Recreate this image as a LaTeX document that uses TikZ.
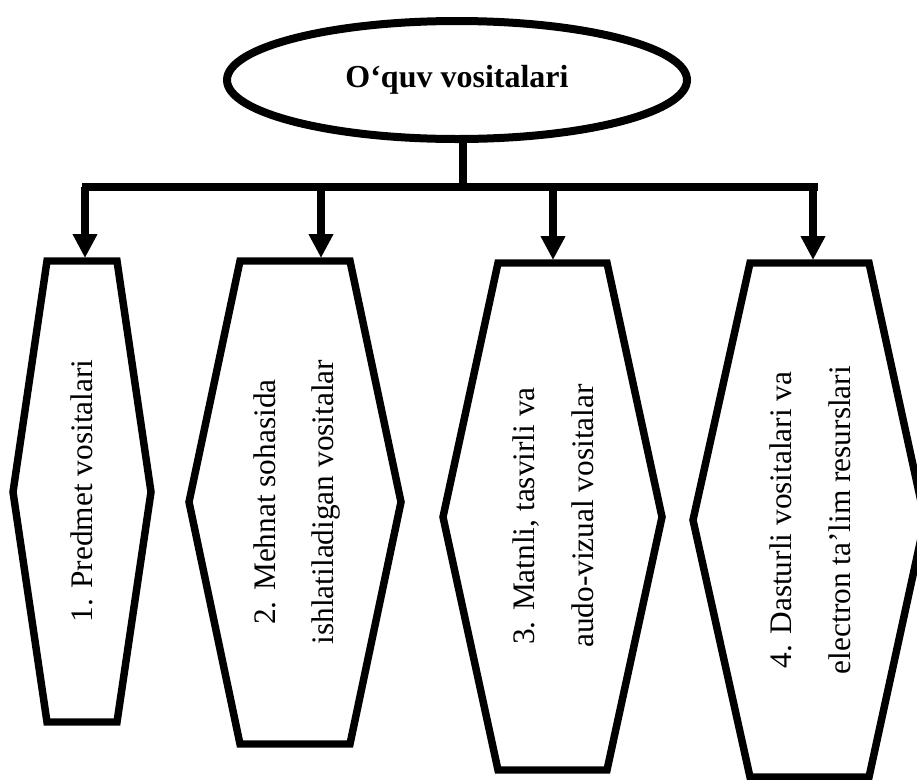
\documentclass[tikz,border=0pt]{standalone}
\usepackage{fontspec}
\setmainfont{Liberation Serif}
\usetikzlibrary{shapes.geometric,arrows.meta}

\begin{document}
\begin{tikzpicture}[x=0.75pt, y=-0.75pt, line width=5.6pt,
  boxtext/.style={rotate=90, align=center, font=\fontsize{23.5}{44}\selectfont},
  arr/.style={-{Triangle[length=18pt, width=17.5pt]}}]

\useasboundingbox (0,0) rectangle (917,779);

\node [ellipse, draw, line width=6pt, minimum width=345pt, minimum height=88.5pt,
  font=\bfseries\fontsize{24}{28}\selectfont] (title) at (457,80) {O‘quv vositalari};

\coordinate (j) at (463,187);
\coordinate (bl) at (82,187);
\coordinate (br) at (818,187);

\draw (j |- title.south) -- (j);
\draw (bl) -- (br);

\begin{scope}[line join=miter]
\draw (47,261) -- (117,261) -- (151,492) -- (117,722) -- (47,722) -- (13,492) -- cycle;
\draw (240,261) -- (350,261) -- (401,502) -- (350,744) -- (240,744) -- (189,502) -- cycle;
\draw (498,263) -- (607,263) -- (662,517) -- (607,770) -- (498,770) -- (443,517) -- cycle;
\draw (750,263) -- (869,263) -- (925,520) -- (869,777) -- (750,777) -- (693,520) -- cycle;
\end{scope}

\node [boxtext] (b1) at (82,491) {1. Predmet vositalari};
\node [boxtext] (b2) at (297,502) {2. Mehnat sohasida\\ishlatiladigan vositalar};
\node [boxtext] (b3) at (553,516) {3. Matnli, tasvirli va\\audo-vizual vositalar};
\node [boxtext] (b4) at (810,520) {4. Dasturli vositalari va\\electron ta’lim resurslari};

\coordinate (t1) at (85,258);
\coordinate (t2) at (321,258);
\coordinate (t3) at (553,260);
\coordinate (t4) at (813,260);

\begin{scope}[arr]
\draw (t1 |- bl) -- (t1); %bar-b1
\draw (t2 |- bl) -- (t2); %bar-b2
\draw (t3 |- bl) -- (t3); %bar-b3
\draw (t4 |- bl) -- (t4); %bar-b4
\end{scope}

\end{tikzpicture}
\end{document}
